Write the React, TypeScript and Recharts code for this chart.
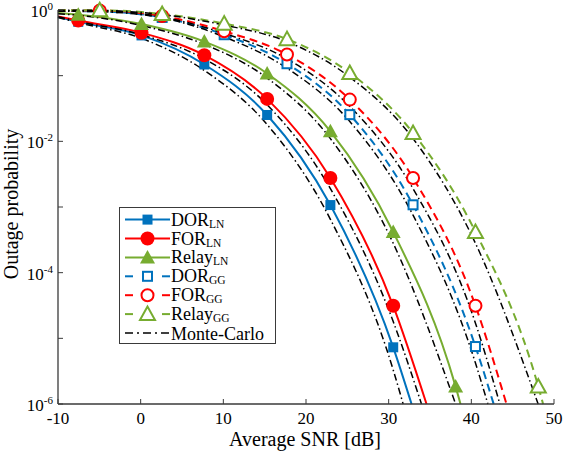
import { ComposedChart, Legend, Line, XAxis, YAxis } from "recharts";

// marker SNRs [dB] for the two channel families
const LN_SNR = [-7.55, 0.1, 7.7, 15.3, 22.95, 30.55, 38.1];
const GG_SNR = [-4.95, 2.6, 10.1, 17.7, 25.3, 32.95, 40.5, 48.1];

// analytical outage probability at the markers
const DOR_LN = [0.66, 0.41, 0.148, 0.0252, 1.07e-3, 7.3e-6];
const FOR_LN = [0.69, 0.45, 0.205, 0.0443, 2.77e-3, 3.13e-5];
const RELAY_LN = [0.85, 0.61, 0.33, 0.108, 0.0142, 4.17e-4, 1.84e-6];
const DOR_GG = [0.95, 0.77, 0.42, 0.152, 0.0255, 1.08e-3, 7.5e-6];
const FOR_GG = [0.98, 0.81, 0.475, 0.21, 0.0432, 2.77e-3, 3.13e-5];
const RELAY_GG = [0.99, 0.87, 0.62, 0.36, 0.11, 0.0134, 4.17e-4, 1.84e-6];

// value at -10 dB and SNR where each curve hits 1e-6 (order: DOR/FOR/Relay LN, DOR/FOR/Relay GG)
const START_P = [0.78, 0.8, 0.9, 0.97, 0.98, 0.99];
const FLOOR_SNR = [32.77, 34.58, 38.69, 42.7, 44.25, 48.68];

// Monte-Carlo curves, read on the same SNR grids
const MC_DOR_LN = [0.64, 0.37, 0.12, 0.018, 6.5e-4, 3.3e-6];
const MC_FOR_LN = [0.67, 0.42, 0.18, 0.036, 1.9e-3, 1.8e-5];
const MC_RELAY_LN = [0.83, 0.58, 0.3, 0.092, 0.011, 2.8e-4];
const MC_DOR_GG = [0.94, 0.76, 0.39, 0.13, 0.02, 7.5e-4, 4.2e-6];
const MC_FOR_GG = [0.97, 0.78, 0.44, 0.18, 0.034, 1.9e-3, 1.7e-5];
const MC_RELAY_GG = [0.985, 0.85, 0.59, 0.33, 0.095, 0.011, 2.8e-4];
const MC_START_P = [0.77, 0.79, 0.88, 0.96, 0.97, 0.99];
const MC_FLOOR_SNR = [31.75, 33.97, 38.1, 42.0, 43.45, 48.08];

const X_TICKS = [-10, 0, 10, 20, 30, 40, 50];
const Y_TICKS = [1e-6, 1e-5, 1e-4, 1e-3, 1e-2, 1e-1, 1];

const FONT = "Liberation Serif, Times New Roman, serif";
const AXIS = "#3a3a3a";
const BLUE = "#0072BD";
const RED = "#FF0000";
const GREEN = "#77AC30";

type Pt = { x: number; p: number; mark: boolean };
type Kind = "square" | "circle" | "triangle";

function curve(start: number, snr: number[], vals: number[], floor: number, mark: boolean): Pt[] {
  return [
    { x: -10, p: start, mark: false },
    ...vals.map((p, i) => ({ x: snr[i], p, mark })),
    { x: floor, p: 1e-6, mark: false },
  ];
}

const SERIES = [
  { name: "DOR", sub: "LN", color: BLUE, dashed: false, kind: "square" as Kind, filled: true, data: curve(START_P[0], LN_SNR, DOR_LN, FLOOR_SNR[0], true) },
  { name: "FOR", sub: "LN", color: RED, dashed: false, kind: "circle" as Kind, filled: true, data: curve(START_P[1], LN_SNR, FOR_LN, FLOOR_SNR[1], true) },
  { name: "Relay", sub: "LN", color: GREEN, dashed: false, kind: "triangle" as Kind, filled: true, data: curve(START_P[2], LN_SNR, RELAY_LN, FLOOR_SNR[2], true) },
  { name: "DOR", sub: "GG", color: BLUE, dashed: true, kind: "square" as Kind, filled: false, data: curve(START_P[3], GG_SNR, DOR_GG, FLOOR_SNR[3], true) },
  { name: "FOR", sub: "GG", color: RED, dashed: true, kind: "circle" as Kind, filled: false, data: curve(START_P[4], GG_SNR, FOR_GG, FLOOR_SNR[4], true) },
  { name: "Relay", sub: "GG", color: GREEN, dashed: true, kind: "triangle" as Kind, filled: false, data: curve(START_P[5], GG_SNR, RELAY_GG, FLOOR_SNR[5], true) },
];

const MC = [
  curve(MC_START_P[0], LN_SNR, MC_DOR_LN, MC_FLOOR_SNR[0], false),
  curve(MC_START_P[1], LN_SNR, MC_FOR_LN, MC_FLOOR_SNR[1], false),
  curve(MC_START_P[2], LN_SNR, MC_RELAY_LN, MC_FLOOR_SNR[2], false),
  curve(MC_START_P[3], GG_SNR, MC_DOR_GG, MC_FLOOR_SNR[3], false),
  curve(MC_START_P[4], GG_SNR, MC_FOR_GG, MC_FLOOR_SNR[4], false),
  curve(MC_START_P[5], GG_SNR, MC_RELAY_GG, MC_FLOOR_SNR[5], false),
];

const DASH = "8 5";
const DASH_DOT = "7 3 1.5 3";

function Marker({ kind, filled, color, cx, cy }: { kind: Kind; filled: boolean; color: string; cx: number; cy: number }) {
  const fill = filled ? color : "#fff";
  const sw = filled ? 0 : 2;
  if (kind === "square") {
    const h = filled ? 5 : 4.5;
    return <rect x={cx - h} y={cy - h} width={2 * h} height={2 * h} fill={fill} stroke={color} strokeWidth={sw} />;
  }
  if (kind === "circle") {
    return <circle cx={cx} cy={cy} r={filled ? 7 : 6} fill={fill} stroke={color} strokeWidth={sw} />;
  }
  return (
    <polygon
      points={`${cx},${cy - 7.5} ${cx - 7.5},${cy + 6} ${cx + 7.5},${cy + 6}`}
      fill={fill}
      stroke={color}
      strokeWidth={sw}
      strokeLinejoin="miter"
    />
  );
}

const makeDot = (s: (typeof SERIES)[number]) => (props: any) => {
  const { cx, cy, payload, index } = props;
  if (!payload || !payload.mark || cx == null || cy == null) return <g key={`n${index}`} />;
  return <Marker key={`m${index}`} kind={s.kind} filled={s.filled} color={s.color} cx={cx} cy={cy} />;
};

function exponent(v: number) {
  return Math.round(Math.log10(v));
}

const BottomTick = (props: any) => {
  const { x, y, payload } = props;
  return (
    <g>
      <line x1={x} y1={y} x2={x} y2={y - 5} stroke={AXIS} strokeWidth={1} />
      <text x={x} y={y + 20} textAnchor="middle" fontSize={17} fontFamily={FONT} fill="#000">
        {payload.value}
      </text>
    </g>
  );
};

const TopTick = (props: any) => {
  const { x, y } = props;
  return <line x1={x} y1={y} x2={x} y2={y + 5} stroke={AXIS} strokeWidth={1} />;
};

const LeftTick = (props: any) => {
  const { x, y, payload } = props;
  const e = exponent(payload.value);
  return (
    <g>
      <line x1={x} y1={y} x2={x + 5} y2={y} stroke={AXIS} strokeWidth={1} />
      {e % 2 === 0 && (
        <text x={x - 5} y={y + 7} textAnchor="end" fontSize={17} fontFamily={FONT} fill="#000">
          10
          <tspan dy={-7} fontSize={11}>
            {e}
          </tspan>
        </text>
      )}
    </g>
  );
};

const RightTick = (props: any) => {
  const { x, y } = props;
  return <line x1={x} y1={y} x2={x - 5} y2={y} stroke={AXIS} strokeWidth={1} />;
};

function LegendBox() {
  const rowY = (i: number) => 11.6 + i * 18.9;
  return (
    <div style={{ width: 157, height: 137, border: `1px solid ${AXIS}`, background: "#fff", boxSizing: "border-box" }}>
      <svg width={155} height={135} style={{ display: "block" }}>
        {SERIES.map((s, i) => {
          const y = rowY(i);
          return (
            <g key={i}>
              {s.dashed ? (
                <>
                  <line x1={5} y1={y} x2={13} y2={y} stroke={s.color} strokeWidth={2} />
                  <line x1={42} y1={y} x2={50} y2={y} stroke={s.color} strokeWidth={2} />
                </>
              ) : (
                <line x1={5} y1={y} x2={50} y2={y} stroke={s.color} strokeWidth={2} />
              )}
              <Marker kind={s.kind} filled={s.filled} color={s.color} cx={27.5} cy={y} />
              <text x={51} y={y + 6} fontSize={18} fontFamily={FONT} fill="#000">
                {s.name}
                <tspan dy={2} fontSize={11.5}>
                  {s.sub}
                </tspan>
              </text>
            </g>
          );
        })}
        <line x1={5} y1={rowY(6)} x2={50} y2={rowY(6)} stroke="#000" strokeWidth={1.5} strokeDasharray="8 4 2 4" />
        <text x={51} y={rowY(6) + 6.5} fontSize={18} fontFamily={FONT} fill="#000">
          Monte-Carlo
        </text>
      </svg>
    </div>
  );
}

export default function App() {
  return (
    <div style={{ position: "absolute", left: 0, top: 0, width: 564, height: 454, background: "#fff" }}>
      <ComposedChart width={564} height={454} margin={{ top: 10, right: 10, bottom: 0, left: 0 }}>
        <XAxis
          dataKey="x"
          type="number"
          domain={[-10, 50]}
          ticks={X_TICKS}
          interval={0}
          height={50}
          tickSize={0}
          tickMargin={0}
          tickLine={false}
          tick={<BottomTick />}
          axisLine={{ stroke: AXIS, strokeWidth: 1.3 }}
          label={{
            content: () => (
              <text x={305} y={446} textAnchor="middle" fontSize={20} fontFamily={FONT} fill="#000">
                Average SNR [dB]
              </text>
            ),
          }}
        />
        <XAxis
          xAxisId="top"
          orientation="top"
          dataKey="x"
          type="number"
          domain={[-10, 50]}
          ticks={X_TICKS}
          interval={0}
          height={0}
          tickSize={0}
          tickMargin={0}
          tickLine={false}
          tick={<TopTick />}
          axisLine={{ stroke: AXIS, strokeWidth: 1.3 }}
        />
        <YAxis
          type="number"
          scale="log"
          domain={[1e-6, 1]}
          ticks={Y_TICKS}
          interval={0}
          width={58}
          tickSize={0}
          tickMargin={0}
          tickLine={false}
          tick={<LeftTick />}
          axisLine={{ stroke: AXIS, strokeWidth: 1.3 }}
          label={{
            content: () => (
              <text
                transform="rotate(-90)"
                x={-204}
                y={18}
                textAnchor="middle"
                fontSize={20}
                fontFamily={FONT}
                fill="#000"
              >
                Outage probability
              </text>
            ),
          }}
        />
        <YAxis
          yAxisId="r"
          orientation="right"
          type="number"
          scale="log"
          domain={[1e-6, 1]}
          ticks={Y_TICKS}
          interval={0}
          width={0}
          tickSize={0}
          tickMargin={0}
          tickLine={false}
          tick={<RightTick />}
          axisLine={{ stroke: AXIS, strokeWidth: 1.3 }}
        />
        {SERIES.map((s, i) => (
          <Line
            key={`s${i}`}
            data={s.data}
            dataKey="p"
            type="monotone"
            stroke={s.color}
            strokeWidth={2}
            strokeDasharray={s.dashed ? DASH : undefined}
            dot={makeDot(s)}
            activeDot={false}
            isAnimationActive={false}
          />
        ))}
        {MC.map((d, i) => (
          <Line
            key={`mc${i}`}
            data={d}
            dataKey="p"
            type="monotone"
            stroke="#000"
            strokeWidth={1.5}
            strokeDasharray={DASH_DOT}
            dot={false}
            activeDot={false}
            isAnimationActive={false}
          />
        ))}
        <Legend
          layout="vertical"
          align="center"
          verticalAlign="middle"
          content={() => <LegendBox />}
          wrapperStyle={{ position: "absolute", left: 119, top: 207, width: 157, height: 137 }}
        />
      </ComposedChart>
    </div>
  );
}
